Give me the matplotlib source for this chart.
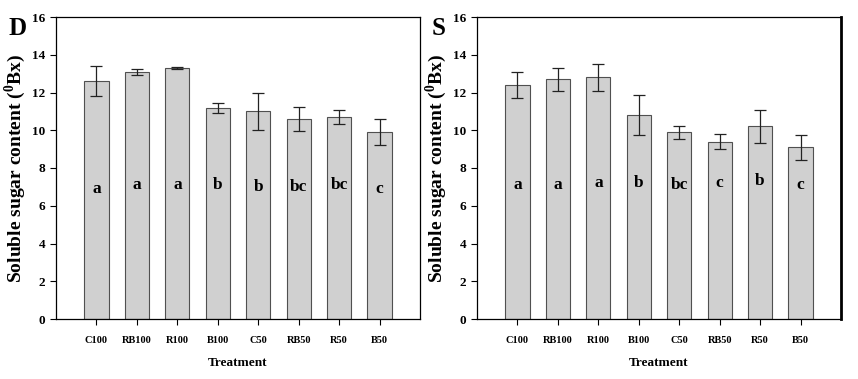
import matplotlib.pyplot as plt
import numpy as np

treatments = ["C100", "RB100", "R100", "B100", "C50", "RB50", "R50", "B50"]

d_means = [12.6, 13.1, 13.3, 11.2, 11.0, 10.6, 10.7, 9.9]
d_err = [0.78, 0.15, 0.05, 0.27, 1.0, 0.62, 0.36, 0.7]
d_letters = ["a", "a", "a", "b", "b", "bc", "bc", "c"]
d_letter_y = [6.9, 7.1, 7.1, 7.1, 7.0, 7.0, 7.1, 6.9]

s_means = [12.4, 12.7, 12.8, 10.8, 9.9, 9.4, 10.2, 9.1]
s_err = [0.7, 0.6, 0.7, 1.05, 0.35, 0.38, 0.87, 0.65]
s_letters = ["a", "a", "a", "b", "bc", "c", "b", "c"]
s_letter_y = [7.1, 7.1, 7.2, 7.2, 7.1, 7.2, 7.3, 7.1]

plt.rcParams["font.family"] = "Liberation Serif"
plt.rcParams["font.weight"] = "bold"
plt.rcParams["mathtext.fontset"] = "custom"
plt.rcParams["mathtext.rm"] = "Liberation Serif:bold"
plt.rcParams["mathtext.bf"] = "Liberation Serif:bold"

fig = plt.figure(figsize=(8.58, 3.79), dpi=100)
W, H = 858, 379
ax1 = fig.add_axes([56 / W, 1 - 319 / H, 364 / W, 302 / H])
ax2 = fig.add_axes([477 / W, 1 - 319 / H, 364 / W, 302 / H])


def draw(ax, means, err, letters, letter_y, tag):
    x = np.arange(len(treatments))
    ax.bar(x, means, width=0.6, color="#d0d0d0", edgecolor="#505050",
           linewidth=0.8, zorder=2)
    ax.errorbar(x, means, yerr=err, fmt="none", ecolor="#222222",
                elinewidth=0.9, capsize=4, capthick=0.9, zorder=3)
    for xi, lab, ly in zip(x, letters, letter_y):
        ax.text(xi, ly, lab, ha="center", va="center", fontsize=12.5,
                fontweight="bold", zorder=4)
    ax.set_xlim(-1, 8)
    ax.set_ylim(0, 16)
    ax.set_yticks(range(0, 17, 2))
    ax.set_xticks(x)
    ax.set_xticklabels(treatments, fontsize=7.5, fontweight="bold")
    ax.tick_params(axis="y", labelsize=9.5, direction="out", length=4)
    ax.tick_params(axis="x", direction="out", length=4, pad=8)
    for lbl in ax.get_yticklabels():
        lbl.set_fontweight("bold")
    ax.set_xlabel("Treatment", fontsize=9.5, fontweight="bold", labelpad=9)
    ax.set_ylabel("Soluble sugar content ($^{0}$Bx)", fontsize=14,
                  fontweight="bold")
    ax.yaxis.set_label_coords(-0.078, 0.5)
    for sp in ax.spines.values():
        sp.set_linewidth(0.9)
    ax.text(-0.105, 0.963, tag, transform=ax.transAxes, fontsize=18,
            fontweight="bold", ha="center", va="center")


draw(ax1, d_means, d_err, d_letters, d_letter_y, "D")
draw(ax2, s_means, s_err, s_letters, s_letter_y, "S")
ax2.spines["right"].set_linewidth(2.0)

fig.savefig("out.png", dpi=100)
